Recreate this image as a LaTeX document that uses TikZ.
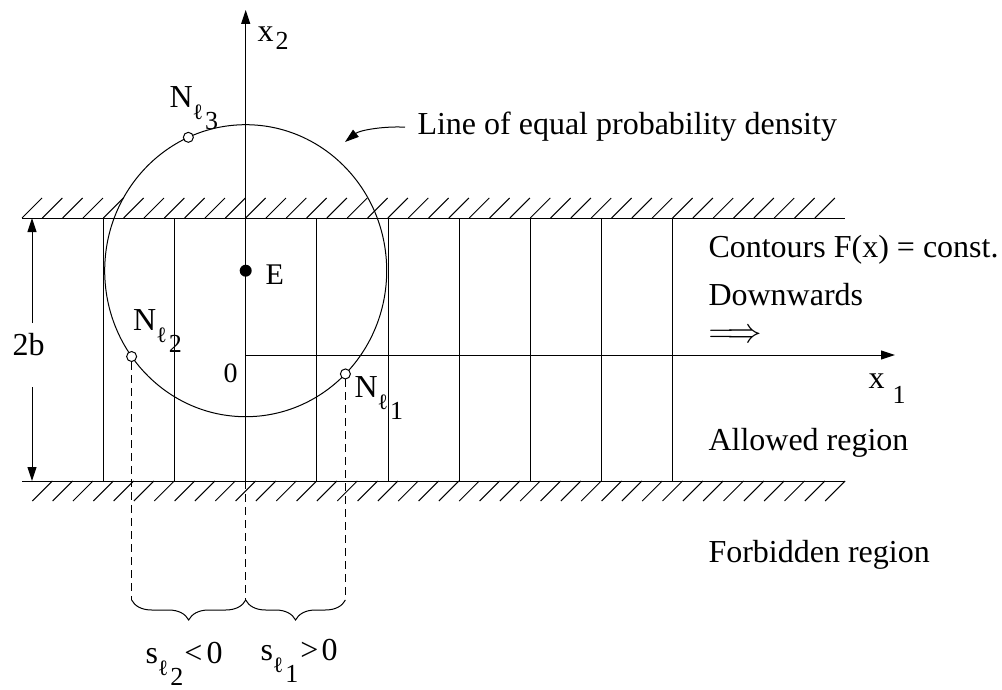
\documentclass[tikz,border=0pt]{standalone}
\usepackage{fontspec}
\setmainfont{Liberation Serif}
\usetikzlibrary{arrows.meta,decorations.pathreplacing}

\begin{document}
\begin{tikzpicture}[x=0.5pt, y=-0.5pt, line width=0.5pt,
        font=\fontsize{16}{19}\selectfont,
        axis/.style={-{Triangle[length=7pt, width=4.5pt]}},
        guide/.style={dash pattern=on 4pt off 2.5pt},
        lbl/.style={anchor=base west, inner sep=0pt},
        dot/.style={circle, fill, inner sep=0pt, minimum size=6pt},
        pnt/.style={circle, draw, fill=white, inner sep=0pt, minimum size=5pt},
        brc/.style={decorate, decoration={brace, amplitude=10pt, mirror}}]
    % subscript l with index, set low as in the figure
    \newcommand{\lsub}[1]{\raisebox{-6pt}{\fontsize{11}{11}\selectfont ℓ}\kern1pt\raisebox{-11pt}{\fontsize{13}{13}\selectfont #1}}
    \useasboundingbox (0,0) rectangle (1002,690);

    % walls with hatching
    \draw (22,218) -- (845,218);
    \draw (22,481) -- (845,481);
    \foreach \i in {0,...,39} {
        \draw (22+20.33*\i,218) -- ++(20,-20);
        \draw (32.3+20.33*\i,501) -- ++(20,-20);
    }

    % contours F(x) = const.
    \foreach \i in {0,...,8}
        \draw (103.3+71.2*\i,218) -- ++(0,263);

    % axes
    \coordinate (O) at (245.7,355);
    \coordinate (axbot) at (245.7,481);
    \coordinate (x2tip) at (245.7,10);
    \coordinate (x1tip) at (895,355);
    \draw[axis] (axbot) -- (x2tip);
    \draw[axis] (O) -- (x1tip);
    \node[lbl] (x2lab) at (257,42) {x\kern1pt\raisebox{-4pt}{\fontsize{13}{13}\selectfont 2}};
    \node[lbl] (x1lab) at (868,388) {x\kern4pt\raisebox{-7.5pt}{\fontsize{13}{13}\selectfont 1}};
    \node[lbl, font=\fontsize{14}{16}\selectfont] (olab) at (223,382) {0};

    % line of equal probability density
    \node[dot] (E) at (245.7,270.7) {};
    \node[lbl, font=\fontsize{15}{18}\selectfont] (elab) at (265,285) {E};
    \draw (E) ellipse [x radius=141, y radius=146];
    \path (E) ++(-114:141 and 146) node[pnt] (N3) {};
    \path (E) ++(144:141 and 146) node[pnt] (N2) {};
    \path (E) ++(45:141 and 146) node[pnt] (N1) {};
    \node[lbl] (n3lab) at (169,108) {N\lsub{3}};
    \node[lbl] (n2lab) at (132.7,330) {N\lsub{2}};
    \node[lbl] (n1lab) at (354,397) {N\lsub{1}};
    \node[lbl, inner xsep=6pt] (dens) at (405,135) {Line of equal probability density};
    \coordinate (denstip) at (345,142);
    \draw[axis] (dens.west) .. controls (385,126) and (360,130) .. (denstip);

    % width of the channel
    \coordinate (wt) at (32,218);
    \coordinate (wb) at (32,481);
    \coordinate (g1) at (32,323);
    \coordinate (g2) at (32,387);
    \draw[axis] (g1) -- (wt);
    \draw[axis] (g2) -- (wb);
    \node[lbl] (twob) at (12,355) {2b};

    % distances s
    \coordinate (s0) at (245.7,600);
    \draw[guide] (N2) -- (N2 |- s0);
    \draw[guide] (axbot) -- (s0);
    \draw[guide] (N1) -- (N1 |- s0);
    \draw[brc] (N2 |- s0) -- (s0);
    \draw[brc] (s0) -- (N1 |- s0);
    \node[lbl] (s2lab) at (145,663) {s\lsub{2}\kern0.5pt<\kern2pt0};
    \node[lbl] (s1lab) at (260,660) {s\lsub{1}\kern1pt>\kern1.5pt0};

    % texts on the right
    \node[lbl] (cont) at (708,257) {Contours F(x) = const.};
    \node[lbl] (down) at (708,305) {Downwards};
    \node[lbl] (darr) at (708,342) {$\Longrightarrow$};
    \node[lbl] (allow) at (708,450) {Allowed region};
    \node[lbl] (forbid) at (708,562) {Forbidden region};
\end{tikzpicture}
\end{document}
